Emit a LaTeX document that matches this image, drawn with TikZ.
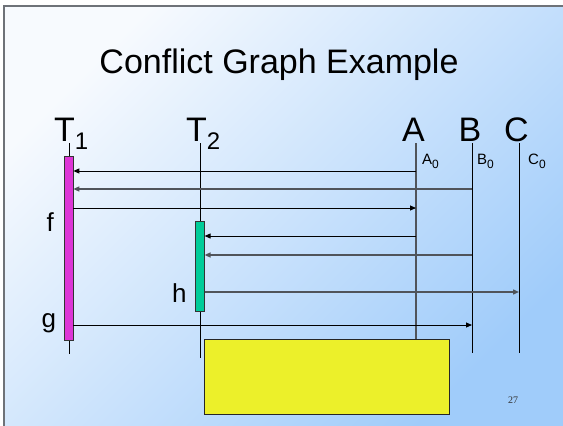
\documentclass[tikz,border=0pt]{standalone}
\usepackage{fontspec}
\setmainfont{Liberation Sans}
\newfontfamily\numserif{Liberation Serif}
\usetikzlibrary{arrows.meta}
\definecolor{bgtl}{RGB}{247,250,254}
\definecolor{bgbr}{RGB}{160,204,250}
\definecolor{framegray}{RGB}{110,114,120}
\definecolor{magbar}{RGB}{221,54,214}
\definecolor{greenbar}{RGB}{0,204,153}
\definecolor{yellowbox}{RGB}{236,240,42}
\definecolor{darkline}{RGB}{80,84,90}
\tikzset{
  lifeline/.style={draw=black, line width=0.9pt},
  graylife/.style={draw=darkline, line width=1.4pt},
  actbar/.style={draw=black!80, line width=0.7pt, inner sep=0pt, minimum width=9pt},
  msg/.style={draw=black, line width=0.9pt, -{Triangle[length=6pt,width=5pt]}},
  graymsg/.style={draw=darkline, line width=1.4pt, -{Triangle[length=6pt,width=5pt]}},
  biglabel/.style={inner sep=0pt, anchor=base west, font=\fontsize{34}{36}\selectfont},
  sublabel/.style={inner sep=0pt, anchor=base west, font=\fontsize{15}{16}\selectfont},
  letlabel/.style={inner sep=0pt, anchor=base west, font=\fontsize{26}{28}\selectfont},
}
\begin{document}
\begin{tikzpicture}[x=1pt,y=-1pt]
\useasboundingbox (0,0) rectangle (563,426);
\fill[white] (0,0) rectangle (563,426);
\shade[top color=bgtl, bottom color=bgbr, shading angle=45] (4,6) rectangle (563,426);
\draw[framegray, line width=1.5pt] (4,426) -- (4,6) -- (563,6);

% title
\node[inner sep=0pt, anchor=base, font=\fontsize{34}{36}\selectfont] (title) at (279,73) {Conflict Graph Example};

% lifeline coordinates
\coordinate (T1top) at (69,143); \coordinate (T1bot) at (69,354);
\coordinate (T2top) at (200,143); \coordinate (T2bot) at (200,358);
\coordinate (Atop) at (416,143); \coordinate (Abot) at (416,339);
\coordinate (Btop) at (472,143); \coordinate (Bbot) at (472,353);
\coordinate (Ctop) at (519,143); \coordinate (Cbot) at (519,353);

\draw[lifeline] (T1top) -- (T1bot);
\draw[lifeline] (T2top) -- (T2bot);
\draw[graylife] (Atop) -- (Abot);
\draw[lifeline] (Btop) -- (Bbot);
\draw[lifeline] (Ctop) -- (Cbot);

% activation bars
\node[actbar, fill=magbar, minimum height=184pt] (T1bar) at (68.5,248) {};
\node[actbar, fill=greenbar, minimum height=90pt, minimum width=8.5pt] (T2bar) at (200,266) {};

% messages
\draw[msg] (Atop |- 0,171) -- (T1bar.east |- 0,171);
\draw[graymsg] (Btop |- 0,189) -- (T1bar.east |- 0,189);
\draw[msg] (T1bar.east |- 0,208) -- (Atop |- 0,208);
\draw[msg] (Atop |- 0,236) -- (T2bar.east |- 0,236);
\draw[graymsg] (Btop |- 0,255) -- (T2bar.east |- 0,255);
\draw[graymsg] (T2bar.east |- 0,292) -- (Ctop |- 0,292);
\draw[msg] (T1bar.east |- 0,325) -- (Btop |- 0,325);

% yellow box
\node[draw=black!85, line width=0.8pt, fill=yellowbox, inner sep=0pt, anchor=north west, minimum width=245pt, minimum height=75pt] (ybox) at (204,339) {};

% labels
\node[biglabel] (T1lab) at (54,141) {T\raisebox{-8pt}{\fontsize{24}{24}\selectfont 1}};
\node[biglabel] (T2lab) at (186,141) {T\raisebox{-8pt}{\fontsize{24}{24}\selectfont 2}};
\node[biglabel] (Alab) at (402,141) {A};
\node[biglabel] (Blab) at (458.5,141) {B};
\node[biglabel] (Clab) at (504,141) {C};
\node[sublabel] (A0) at (422,164) {A\raisebox{-4pt}{\fontsize{12}{12}\selectfont 0}};
\node[sublabel] (B0) at (477,164) {B\raisebox{-4pt}{\fontsize{12}{12}\selectfont 0}};
\node[sublabel] (C0) at (528,164) {C\raisebox{-4pt}{\fontsize{12}{12}\selectfont 0}};
\node[letlabel] (flab) at (46.5,231) {f};
\node[letlabel] (hlab) at (172,302) {h};
\node[letlabel] (glab) at (41.5,327) {g};
\node[inner sep=0pt, text=black!80, font=\numserif\fontsize{10}{12}\selectfont] (pnum) at (513,400.5) {27};
\end{tikzpicture}
\end{document}
